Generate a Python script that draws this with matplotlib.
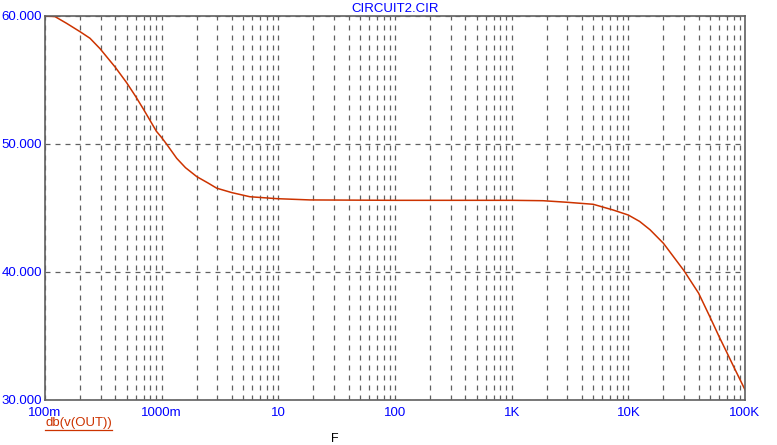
"""Recreate the CIRCUIT2.CIR AC sweep plot (dB of v(OUT) vs frequency)."""

import matplotlib
import matplotlib.pyplot as plt
from matplotlib.lines import Line2D
from matplotlib.ticker import FixedLocator, LogLocator, NullFormatter

matplotlib.use("Agg")

# frequency (Hz) and gain (dB)
freq = [0.1, 0.122, 0.153, 0.2, 0.243, 0.296, 0.4, 0.5, 0.6, 0.7, 0.8, 0.9,
        1.0, 1.1, 1.346, 1.6, 2.0, 2.5, 2.96, 4.0, 5.7, 9.7, 18.7, 100, 1000,
        1855, 2960, 5000, 7430, 10000, 12500, 15350, 20000, 30000, 40000,
        50000, 60000, 70000, 80000, 100000]
gain_db = [60.0, 59.95, 59.43, 58.77, 58.26, 57.45, 56.0, 54.8, 53.7, 52.7,
           51.8, 51.0, 50.5, 50.0, 48.88, 48.15, 47.45, 46.95, 46.55, 46.2,
           45.88, 45.73, 45.63, 45.6, 45.6, 45.57, 45.45, 45.29, 44.84,
           44.45, 43.95, 43.3, 42.24, 40.1, 38.35, 36.5, 34.95, 33.7, 32.6,
           30.8]

x_ticks = [0.1, 1, 10, 100, 1000, 10000, 100000]
x_labels = ["100m", "1000m", "10", "100", "1K", "10K", "100K"]
y_ticks = [30, 40, 50, 60]
y_labels = ["30.000", "40.000", "50.000", "60.000"]

BLUE = "#0000ff"
TRACE = "#cc3300"
GRID = "#606060"

plt.rcParams["font.family"] = ["Liberation Sans", "DejaVu Sans"]


def main():
    fig = plt.figure(figsize=(7.77, 4.45), dpi=100)
    W, H = 777, 445
    ax = fig.add_axes([45 / W, 1 - 400 / H, 700 / W, 384 / H])

    ax.plot(freq, gain_db, color=TRACE, linewidth=1.1)

    ax.set_xscale("log")
    ax.set_xlim(0.1, 100000)
    ax.set_ylim(30, 60)

    ax.xaxis.set_major_locator(FixedLocator(x_ticks))
    ax.set_xticklabels(x_labels)
    ax.xaxis.set_minor_locator(LogLocator(base=10, subs=range(2, 10), numticks=20))
    ax.xaxis.set_minor_formatter(NullFormatter())
    ax.set_yticks(y_ticks)
    ax.set_yticklabels(y_labels)

    ax.tick_params(axis="both", which="both", length=0, colors=BLUE,
                   labelsize=9.5)
    ax.tick_params(axis="x", pad=5)
    ax.tick_params(axis="y", pad=2)

    grid_kw = dict(color=GRID, linestyle=(0, (4, 4)), linewidth=0.9)
    ax.grid(True, which="major", axis="both", **grid_kw)
    ax.grid(True, which="minor", axis="x", **grid_kw)

    for spine in ax.spines.values():
        spine.set_color(GRID)
        spine.set_linewidth(1.2)

    fig.text(395 / W, 1 - 9 / H, "CIRCUIT2.CIR", color=BLUE, fontsize=9.5,
             ha="center", va="center")
    fig.text(335 / W, 1 - 439 / H, "F", color="#000000", fontsize=9,
             ha="center", va="center")
    legend = fig.text(45 / W, 1 - 423 / H, "db(v(OUT))", color=TRACE,
                      fontsize=9.5, ha="left", va="center")

    # underline the trace label the way the simulator does
    fig.canvas.draw()
    bbox = legend.get_window_extent(renderer=fig.canvas.get_renderer())
    inv = fig.transFigure.inverted()
    (x0, y0), (x1, _) = inv.transform([(bbox.x0, bbox.y0 - 1), (bbox.x1, bbox.y0)])
    fig.add_artist(Line2D([x0, x1], [y0, y0], transform=fig.transFigure,
                          color=TRACE, linewidth=0.9))

    fig.savefig("out.png", dpi=100)
    plt.close(fig)


if __name__ == "__main__":
    main()
